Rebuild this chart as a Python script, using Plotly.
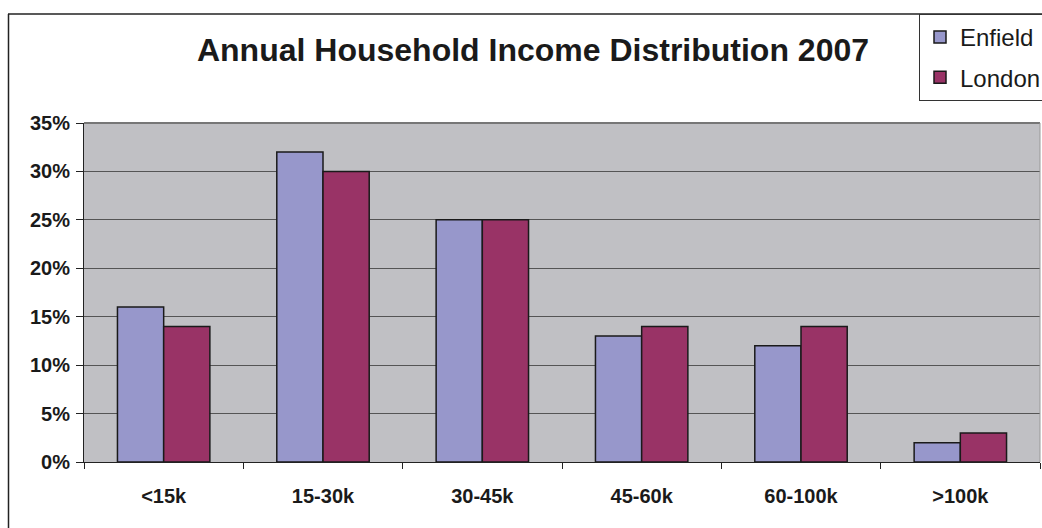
import plotly.graph_objects as go

categories = ["<15k", "15-30k", "30-45k", "45-60k", "60-100k", ">100k"]
enfield = [0.16, 0.32, 0.25, 0.13, 0.12, 0.02]
london = [0.14, 0.30, 0.25, 0.14, 0.14, 0.03]

W, H = 1042, 528
L, R, T, B = 84, 2, 123, 66
pw = W - L - R
ph = H - T - B

def px_x(x):
    return (x - L) / pw

def px_y(y):
    return (H - B - y) / ph

fig = go.Figure()
fig.add_trace(go.Bar(x=categories, y=enfield, name="Enfield", legendgroup="e",
                     marker=dict(color="#9797CB", line=dict(color="#1a1a1a", width=1.5))))
fig.add_trace(go.Bar(x=categories, y=london, name="London", legendgroup="l",
                     marker=dict(color="#993366", line=dict(color="#1a1a1a", width=1.5))))

fig.update_layout(
    width=W, height=H,
    margin=dict(l=L, r=R, t=T, b=B, autoexpand=False),
    paper_bgcolor="white",
    plot_bgcolor="#C0C0C4",
    barmode="group",
    bargap=0.42,
    bargroupgap=0,
    font=dict(family="Liberation Sans, Arial, sans-serif", color="#1a1a1a"),
    title=dict(text="<b>Annual Household Income Distribution 2007</b>",
               x=533 / W, xanchor="center",
               y=1 - 50 / H, yanchor="middle",
               font=dict(size=32, color="#1a1a1a")),
    legend=dict(x=px_x(919), y=px_y(14), xanchor="left", yanchor="top",
                bgcolor="white", bordercolor="#333", borderwidth=1,
                font=dict(size=24, color="#1a1a1a"),
                tracegroupgap=6, itemwidth=30),
    showlegend=True,
)

fig.update_xaxes(
    showline=True, linecolor="#222", linewidth=1,
    ticks="outside", tickson="boundaries", ticklen=6, tickcolor="#222",
    tickfont=dict(size=20, color="#1a1a1a", family="Liberation Sans, Arial, sans-serif"),
    tickprefix="<b>", ticksuffix="</b>",
    ticklabelstandoff=16,
    showgrid=False,
)
fig.update_yaxes(
    range=[0, 0.35], dtick=0.05, tickformat=".0%",
    showline=True, linecolor="#222", linewidth=1,
    ticks="outside", ticklen=7, tickcolor="#222",
    gridcolor="#555", gridwidth=1,
    tickfont=dict(size=20, color="#1a1a1a"),
    tickprefix="<b>", ticksuffix="</b>",
    ticklabelstandoff=2,
    zeroline=False,
)

# plot-area top/right border
fig.add_shape(type="line", xref="paper", yref="paper", x0=0, x1=1, y0=1, y1=1,
              line=dict(color="#777", width=2))
fig.add_shape(type="line", xref="paper", yref="paper", x0=1, x1=1, y0=0, y1=1,
              line=dict(color="#999", width=1))
# outer chart border (left and top)
fig.add_shape(type="line", xref="paper", yref="paper",
              x0=px_x(8.5), x1=px_x(8.5), y0=px_y(14), y1=px_y(540),
              line=dict(color="#222", width=1.5))
fig.add_shape(type="line", xref="paper", yref="paper",
              x0=px_x(8), x1=px_x(1050), y0=px_y(14), y1=px_y(14),
              line=dict(color="#222", width=1.5))

fig.write_html("out.html")
